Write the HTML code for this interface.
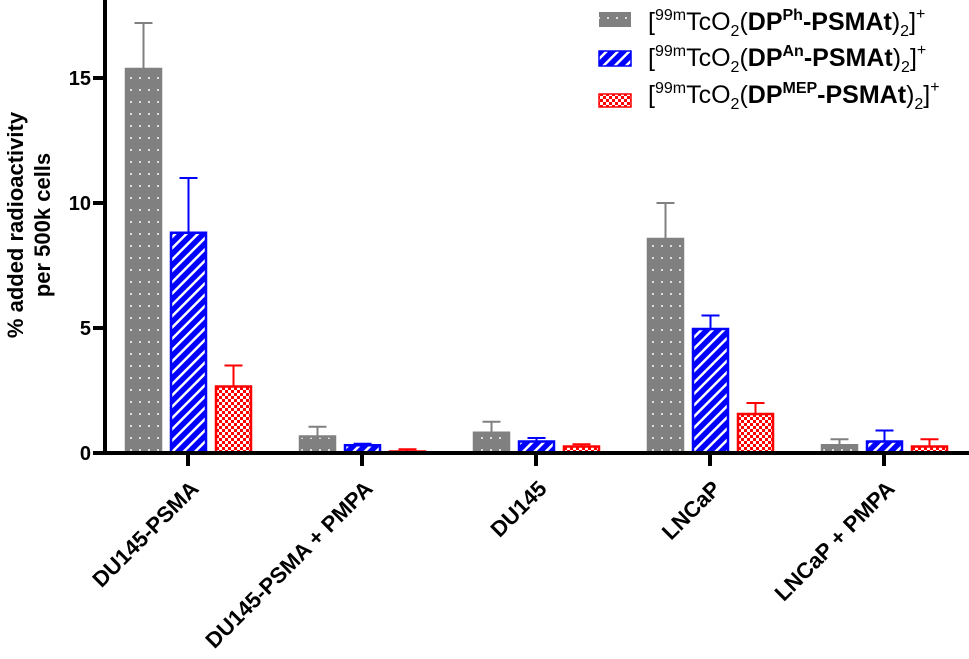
<!DOCTYPE html>
<html><head><meta charset="utf-8"><style>
body{margin:0;background:#fff;font-family:"Liberation Sans",Arial,sans-serif}
svg text{font-family:"Liberation Sans",Arial,sans-serif}
</style></head><body>
<svg id="c" width="969" height="654">
<defs>
<pattern id="pg" width="9" height="12" patternUnits="userSpaceOnUse"><rect width="9" height="12" fill="#808080"/><rect x="4" y="5" width="2" height="2" fill="#ddd"/></pattern>
<pattern id="pb" width="8" height="8" patternUnits="userSpaceOnUse" patternTransform="rotate(45)"><rect width="8" height="8" fill="#0000ff"/><rect x="0" y="0" width="2.5" height="8" fill="#fff"/></pattern>
<pattern id="pr" width="6" height="6" patternUnits="userSpaceOnUse"><rect width="6" height="6" fill="#ff0000"/><rect x="0" y="0" width="3" height="3" fill="#fff"/><rect x="3" y="3" width="3" height="3" fill="#fff"/></pattern>
</defs>
<g id="bars"></g>
<g id="axes"></g>
<g>
<rect x="599" y="12" width="32" height="15" fill="url(#pg)"/>
<text x="648" y="30" font-size="25">[<tspan font-size="16" dy="-10">99m</tspan><tspan dy="10">TcO</tspan><tspan font-size="16" dy="6">2</tspan><tspan dy="-6">(</tspan><tspan font-weight="bold">DP</tspan><tspan font-weight="bold" font-size="16" dy="-10">Ph</tspan><tspan font-weight="bold" dy="10">-PSMAt</tspan>)<tspan font-size="16" dy="6">2</tspan><tspan dy="-6">]</tspan><tspan font-size="16" dy="-11">+</tspan></text>
<rect x="599" y="51" width="32" height="15" fill="url(#pb)" stroke="#0000ff" stroke-width="1.5"/>
<text x="648" y="66" font-size="25">[<tspan font-size="16" dy="-10">99m</tspan><tspan dy="10">TcO</tspan><tspan font-size="16" dy="6">2</tspan><tspan dy="-6">(</tspan><tspan font-weight="bold">DP</tspan><tspan font-weight="bold" font-size="16" dy="-10">An</tspan><tspan font-weight="bold" dy="10">-PSMAt</tspan>)<tspan font-size="16" dy="6">2</tspan><tspan dy="-6">]</tspan><tspan font-size="16" dy="-11">+</tspan></text>
<rect x="599" y="94" width="32" height="13" fill="url(#pr)" stroke="#ff0000" stroke-width="1.5"/>
<text x="648" y="103" font-size="25">[<tspan font-size="16" dy="-10">99m</tspan><tspan dy="10">TcO</tspan><tspan font-size="16" dy="6">2</tspan><tspan dy="-6">(</tspan><tspan font-weight="bold">DP</tspan><tspan font-weight="bold" font-size="16" dy="-10">MEP</tspan><tspan font-weight="bold" dy="10">-PSMAt</tspan>)<tspan font-size="16" dy="6">2</tspan><tspan dy="-6">]</tspan><tspan font-size="16" dy="-11">+</tspan></text>
</g>
<text transform="translate(23,225) rotate(-90)" text-anchor="middle" font-size="22" font-weight="bold"><tspan x="0" dy="0">% added radioactivity</tspan><tspan x="0" dy="27">per 500k cells</tspan></text>
</svg>
<script>
const categories=["DU145-PSMA","DU145-PSMA + PMPA","DU145","LNCaP","LNCaP + PMPA"];
const phValues=[15.4,0.7,0.85,8.6,0.35];
const phErrors=[1.8,0.35,0.4,1.4,0.2];
const anValues=[8.85,0.35,0.5,5.0,0.5];
const anErrors=[2.15,0.02,0.1,0.5,0.4];
const mepValues=[2.7,0.1,0.3,1.6,0.3];
const mepErrors=[0.8,0.05,0.05,0.4,0.25];
const yTicks=[0,5,10,15];
const NS="http://www.w3.org/2000/svg";
const y=v=>453-v*25;
const xc=i=>188+i*174;
function mk(t,a,p){const e=document.createElementNS(NS,t);for(const k in a)e.setAttribute(k,a[k]);p.appendChild(e);return e;}
const bars=document.getElementById('bars'),axes=document.getElementById('axes');
const series=[{v:phValues,e:phErrors,f:"url(#pg)",c:"#808080",off:-44.5,n:"ph"},{v:anValues,e:anErrors,f:"url(#pb)",c:"#0000ff",off:0.5,n:"an"},{v:mepValues,e:mepErrors,f:"url(#pr)",c:"#ff0000",off:45.5,n:"mep"}];
series.forEach(s=>{s.v.forEach((v,i)=>{
 const cx=xc(i)+s.off,top=y(v),et=y(v+s.e[i]);
 const l=mk('line',{x1:cx,x2:cx,y1:top,y2:et,stroke:s.c,'stroke-width':2},bars);
 
 
 const cap=mk('line',{x1:cx-9,x2:cx+9,y1:et,y2:et,stroke:s.c,'stroke-width':2},bars);
 
 
 const r=mk('rect',{x:cx-17.5,y:top+1,width:35,height:Math.max(453-top-1,0),fill:s.f,stroke:s.c,'stroke-width':2.5},bars);
 
 
});});
const ya=mk('line',{x1:105,x2:105,y1:0,y2:455,stroke:'#000','stroke-width':4},axes);


const xa=mk('line',{x1:103,x2:969,y1:453,y2:453,stroke:'#000','stroke-width':4},axes);


yTicks.forEach(t=>{
 const tk=mk('line',{x1:93,x2:105,y1:y(t),y2:y(t),stroke:'#000','stroke-width':4},axes);
 
 
 const tx=mk('text',{x:91,y:y(t)+7,'text-anchor':'end','font-size':20,'font-weight':'bold'},axes);
 tx.textContent=t;
 
 
});
categories.forEach((c,i)=>{
 const tk=mk('line',{x1:xc(i),x2:xc(i),y1:453,y2:466,stroke:'#000','stroke-width':4},axes);
 
 
 const tx=mk('text',{transform:`translate(${xc(i)+12},${490}) rotate(-45)`,'text-anchor':'end','font-size':22,'font-weight':'bold'},axes);
 tx.textContent=c;
 
 
});
</script>
</body></html>
